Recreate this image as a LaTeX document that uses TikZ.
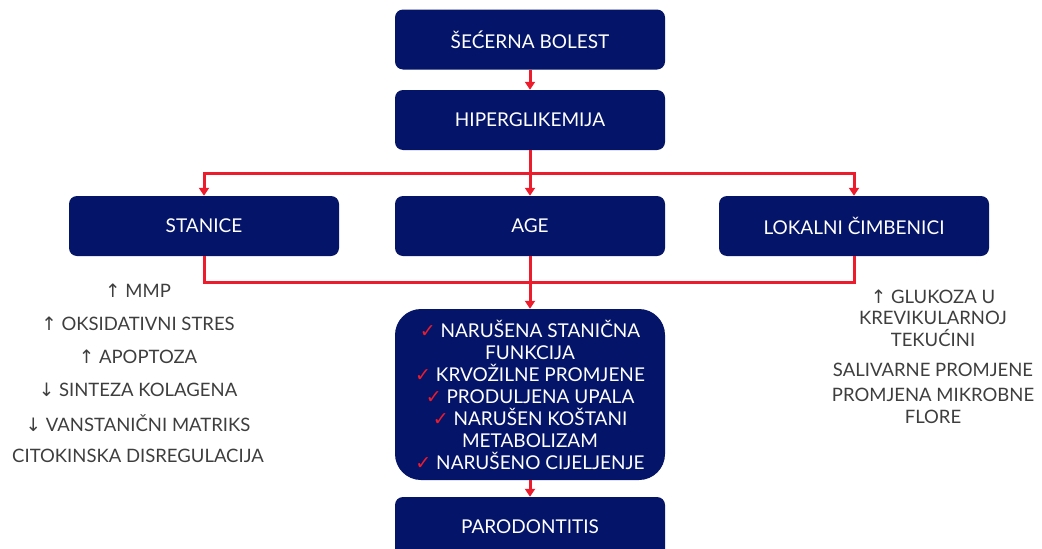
\documentclass[tikz,border=0pt]{standalone}
\usepackage{fontspec}
\setmainfont{Lato}
\newfontfamily\symfont{DejaVu Sans}
\usetikzlibrary{arrows.meta}
\definecolor{navy}{RGB}{4,20,104}
\definecolor{flowred}{RGB}{236,28,45}
\definecolor{listgray}{RGB}{62,62,62}
\newcommand{\up}{{\symfont\char"2191}}
\newcommand{\down}{{\symfont\char"2193}}
\newcommand{\tick}{{\color{flowred}\symfont\char"2713}}
\tikzset{
  box/.style={fill=navy, text=white, rounded corners=8pt, minimum width=270pt,
    minimum height=60pt, font=\fontsize{19}{22}\selectfont},
  link/.style={draw=flowred, line width=3pt},
  arr/.style={link, -{Triangle[length=8pt,width=10pt]}},
  item/.style={text=listgray, font=\fontsize{18.5}{21.5}\selectfont, align=center, inner sep=0pt}
}
\begin{document}
\begin{tikzpicture}[x=1pt, y=-1pt]
      \useasboundingbox (0,0) rectangle (1042,549);
      \node[box] (diabetes) at (530, 39.5) {ŠEĆERNA BOLEST};
      \node[box] (hyper) at (530, 120) {HIPERGLIKEMIJA};
      \node[box] (cells) at (204, 226) {STANICE};
      \node[box] (age) at (530, 226) {AGE};
      \node[box] (local) at (854, 226) {LOKALNI ČIMBENICI};
      \node[box, minimum height=171pt, rounded corners=26pt, align=center,
        font=\fontsize{19}{22}\selectfont] (effects) at (530, 394.5)
        {\tick\ NARUŠENA STANIČNA\\ FUNKCIJA\\ \tick\ KRVOŽILNE PROMJENE\\
         \tick\ PRODULJENA UPALA\\ \tick\ NARUŠEN KOŠTANI\\ METABOLIZAM\\
         \tick\ NARUŠENO CIJELJENJE};
      \node[box] (perio) at (530, 527) {PARODONTITIS};
      \coordinate (split) at (530, 173);
      \coordinate (join) at (530, 282);
      % arrows
      \draw[arr] (diabetes) -- (hyper);
      \draw[arr] (hyper) -- (age);
      \draw[arr] (split) -| (cells);
      \draw[arr] (split) -| (local);
      \draw[link] (cells) |- (join);
      \draw[link] (local) |- (join);
      \draw[arr] (age) -- (effects);
      \draw[arr] (effects) -- (perio);
      % lists
      \foreach \t [count=\i] in {\up\ MMP, \up\ OKSIDATIVNI STRES, \up\ APOPTOZA,
          \down\ SINTEZA KOLAGENA, \down\ VANSTANIČNI MATRIKS, CITOKINSKA DISREGULACIJA}
        \node[item] (c\i) at (138, 258+33*\i) {\t};
      \node[item] (glucose) at (933, 318) {\up\ GLUKOZA U\\ KREVIKULARNOJ\\ TEKUĆINI};
      \node[item] (saliva) at (933, 370) {SALIVARNE PROMJENE};
      \node[item] (flora) at (933, 406) {PROMJENA MIKROBNE\\ FLORE};
    \end{tikzpicture}
\end{document}
